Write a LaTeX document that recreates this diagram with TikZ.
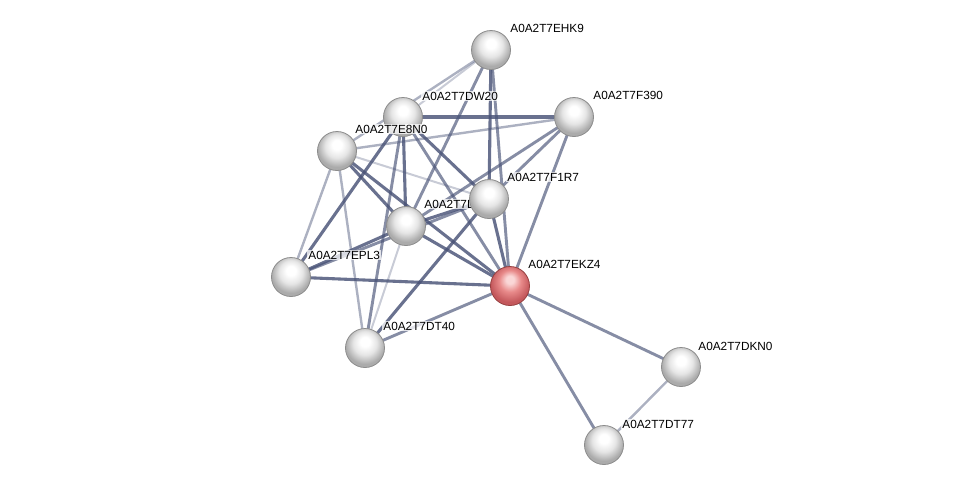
\documentclass[tikz,border=0pt]{standalone}
\usepackage{fontspec}
\setmainfont{Liberation Sans}
\usetikzlibrary{calc}
\pgfdeclarelayer{bg}
\pgfsetlayers{bg,main}
\pgfdeclareradialshading{graysph}{\pgfqpoint{0bp}{9bp}}{color(0bp)=(white); color(6bp)=(white); color(15bp)=(black!10); color(25bp)=(black!33); color(50bp)=(black!33)}
\definecolor{redhi}{RGB}{250,215,215}
\definecolor{redmid}{RGB}{232,138,138}
\definecolor{redlo}{RGB}{196,88,92}
\pgfdeclareradialshading{redsph}{\pgfqpoint{0bp}{9bp}}{color(0bp)=(redhi); color(5bp)=(redhi); color(14bp)=(redmid); color(25bp)=(redlo); color(50bp)=(redlo)}
\definecolor{edgec}{RGB}{72,82,118}
\tikzset{
  gball/.style={circle, minimum size=39pt, inner sep=0pt, shading=graysph, draw=black!45, line width=0.8pt},
  rball/.style={circle, minimum size=39pt, inner sep=0pt, shading=redsph, draw=red!45!black!75, line width=0.8pt},
  lab/.style={anchor=west, inner sep=1.2pt, fill=white, fill opacity=0.75, text opacity=1, font=\fontsize{11.8}{13}\selectfont},
  eA/.style={draw=edgec, line width=3.1pt, opacity=0.82},
  eB/.style={draw=edgec, line width=2.9pt, opacity=0.66},
  eC/.style={draw=edgec, line width=2.4pt, opacity=0.45},
  eD/.style={draw=edgec, line width=2pt, opacity=0.3}
}
\begin{document}
\begin{tikzpicture}[x=1pt,y=-1pt]
\useasboundingbox (0,0) rectangle (976,491);
% nodes and labels
\node[gball] (H) at (491,50) {};
\path (H) ++(18,-22) node[lab] (Hl) {A0A2T7EHK9};
\node[gball] (F) at (574,117) {};
\path (F) ++(18,-22) node[lab] (Fl) {A0A2T7F390};
\node[gball] (W) at (403,117) {};
\path (W) ++(18,-21) node[lab] (Wl) {A0A2T7DW20};
\node[gball] (E) at (337,151) {};
\path (E) ++(17,-22) node[lab] (El) {A0A2T7E8N0};
\node[gball] (P) at (291,277) {};
\path (P) ++(16,-22) node[lab] (Pl) {A0A2T7EPL3};
\node[gball] (T) at (365,348) {};
\path (T) ++(17,-22) node[lab] (Tl) {A0A2T7DT40};
\node[gball] (D) at (406,226) {};
\path (D) ++(17,-22) node[lab] (Dl) {A0A2T7D};
\node[gball] (R) at (489,199) {};
\path (R) ++(17,-22) node[lab] (Rl) {A0A2T7F1R7};
\node[rball] (K) at (510,286) {};
\path (K) ++(17,-22) node[lab] (Kl) {A0A2T7EKZ4};
\node[gball] (N) at (681,367) {};
\path (N) ++(16,-21) node[lab] (Nl) {A0A2T7DKN0};
\node[gball] (S) at (604,445) {};
\path (S) ++(17,-21) node[lab] (Sl) {A0A2T7DT77};
% edges
\begin{pgfonlayer}{bg}
\draw[eD] (H.center) -- (W.center);
\draw[eC] (H.center) -- (E.center);
\draw[eB] (H.center) -- (D.center);
\draw[eA] (H.center) -- (R.center);
\draw[eB] (H.center) -- (K.center);
\draw[eA] (F.center) -- (W.center);
\draw[eC] (F.center) -- (E.center);
\draw[eB] (F.center) -- (D.center);
\draw[eB] (F.center) -- (R.center);
\draw[eB] (F.center) -- (K.center);
\draw[eA] (W.center) -- (D.center);
\draw[eB] (W.center) -- (T.center);
\draw[eA] (W.center) -- (P.center);
\draw[eA] (W.center) -- (R.center);
\draw[eB] (W.center) -- (K.center);
\draw[eA] (E.center) -- (D.center);
\draw[eD] (E.center) -- (R.center);
\draw[eA] (E.center) -- (K.center);
\draw[eC] (E.center) -- (P.center);
\draw[eC] (E.center) -- (T.center);
\draw[eA] (D.center) -- (R.center);
\draw[eA] (D.center) -- (K.center);
\draw[eA] (D.center) -- (P.center);
\draw[eD] (D.center) -- (T.center);
\draw[eA] (P.center) -- (K.center);
\draw[eB] (P.center) -- (R.center);
\draw[eA] (T.center) -- (R.center);
\draw[eB] (T.center) -- (K.center);
\draw[eA] (K.center) -- (R.center);
\draw[eB] (K.center) -- (N.center);
\draw[eB] (K.center) -- (S.center);
\draw[eC] (N.center) -- (S.center);
\end{pgfonlayer}
\end{tikzpicture}
\end{document}
